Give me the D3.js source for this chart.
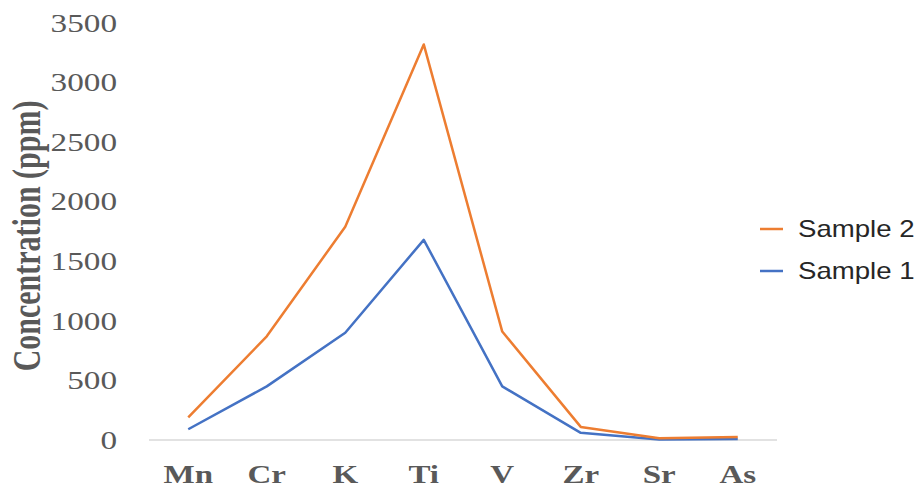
<!DOCTYPE html>
<html lang="en">
<head>
  <meta charset="UTF-8" />
  <title>Concentration chart</title>
  <script src="https://d3js.org/d3.v7.min.js"></script>
  <style>
  body { margin: 0; background: #fff; }
  svg { display: block; }
  </style>
</head>
<body>
<script>
// data
const elements = ["Mn", "Cr", "K", "Ti", "V", "Zr", "Sr", "As"];
const sample1 = [90, 450, 900, 1680, 450, 60, 5, 8];
const sample2 = [190, 870, 1790, 3320, 910, 110, 15, 25];
const yTicks = [0, 500, 1000, 1500, 2000, 2500, 3000, 3500];
const seriesNames = ["Sample 2", "Sample 1"];

const width = 918, height = 489;

const svg = d3.select("body").append("svg")
    .attr("width", width)
    .attr("height", height);

const x = d3.scalePoint()
    .domain(elements)
    .range([149, 777])
    .padding(0.5);

const y = d3.scaleLinear()
    .domain([0, 3500])
    .range([440, 23]);

// baseline
svg.append("line")
    .attr("x1", 149).attr("x2", 777)
    .attr("y1", y(0)).attr("y2", y(0))
    .attr("stroke", "#d9d9d9")
    .attr("stroke-width", 1.5);

// y tick labels (picture is a bit stretched sideways)
svg.append("g")
  .selectAll("text")
  .data(yTicks)
  .join("text")
    .attr("transform", d => `translate(117,${y(d)}) scale(1.33,1)`)
    .attr("dy", "0.35em")
    .attr("text-anchor", "end")
    .attr("font-family", "'Liberation Serif', serif")
    .attr("font-size", 25)
    .attr("fill", "#595959")
    .text(d => d);

// x labels
svg.append("g")
  .selectAll("text")
  .data(elements)
  .join("text")
    .attr("transform", d => `translate(${x(d)},483) scale(1.27,1)`)
    .attr("text-anchor", "middle")
    .attr("font-family", "'Liberation Serif', serif")
    .attr("font-weight", "bold")
    .attr("font-size", 26)
    .attr("fill", "#595959")
    .text(d => d);

// y title
svg.append("text")
    .attr("transform", "translate(40,236) scale(1.3,1) rotate(-90)")
    .attr("text-anchor", "middle")
    .attr("font-family", "'Liberation Serif', serif")
    .attr("font-weight", "bold")
    .attr("font-size", 30)
    .attr("fill", "#595959")
    .text("Concentration (ppm)");

const line = d3.line()
    .x((d, i) => x(elements[i]))
    .y(d => y(d));

const series = [
  {name: "Sample 1", values: sample1, color: "#4472c4"},
  {name: "Sample 2", values: sample2, color: "#ed7d31"}
];

svg.append("g")
    .attr("fill", "none")
    .attr("stroke-width", 2.5)
    .attr("stroke-linejoin", "round")
  .selectAll("path")
  .data(series)
  .join("path")
    .attr("stroke", d => d.color)
    .attr("d", d => line(d.values));

// legend
const legend = svg.append("g")
  .selectAll("g")
  .data(seriesNames)
  .join("g")
    .attr("transform", (d, i) => `translate(760,${229 + i * 42})`);

legend.append("line")
    .attr("x1", 0).attr("x2", 23)
    .attr("stroke", d => series.find(s => s.name === d).color)
    .attr("stroke-width", 2.5);

legend.append("text")
    .attr("transform", "translate(38,0) scale(1.2,1)")
    .attr("dy", "0.35em")
    .attr("font-family", "'Liberation Sans', Arial, sans-serif")
    .attr("font-size", 23)
    .attr("fill", "#262626")
    .text(d => d);
</script>
</body>
</html>
